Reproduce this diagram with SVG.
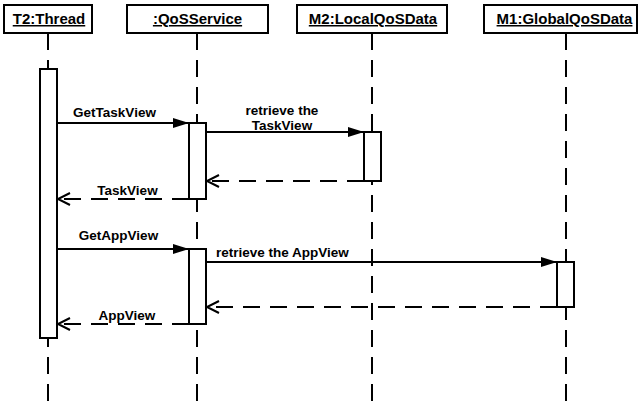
<svg xmlns="http://www.w3.org/2000/svg" width="639" height="401" viewBox="0 0 639 401">
<style>
.box{fill:#fff;stroke:#000;stroke-width:2}
.hdr{font-family:"Liberation Sans",Arial,sans-serif;font-weight:bold;font-size:15px;text-anchor:middle;text-decoration:underline}
.life{stroke:#000;stroke-width:2;stroke-dasharray:17,10;fill:none}
.bar{fill:#fff;stroke:#000;stroke-width:2}
.msg{stroke:#000;stroke-width:2;fill:none}
.ret{stroke:#000;stroke-width:2;fill:none;stroke-dasharray:17,10}
.lbl{font-family:"Liberation Sans",Arial,sans-serif;font-weight:bold;font-size:13.5px;text-anchor:middle}
</style>
<defs>
<marker id="fill" markerWidth="16" markerHeight="10" refX="16" refY="5" orient="auto" markerUnits="userSpaceOnUse">
<path d="M0,0 L16,5 L0,10 Z" fill="#000"/>
</marker>
<marker id="open" markerWidth="16" markerHeight="14" refX="13" refY="7" orient="auto" markerUnits="userSpaceOnUse">
<path d="M1,1 L13,7 L1,13" fill="none" stroke="#000" stroke-width="2"/>
</marker>
</defs>
<rect width="639" height="401" fill="#fff"/>
<g id="lifelines">
<line class="life" x1="48" y1="33" x2="48" y2="401"/>
<line class="life" x1="197" y1="33" x2="197" y2="401"/>
<line class="life" x1="372" y1="33" x2="372" y2="401"/>
<line class="life" x1="566" y1="33" x2="566" y2="401"/>
</g>
<g id="T2">
<rect class="box" x="4" y="5" width="88" height="28"/>
<text class="hdr" x="49" y="24">T2:Thread</text>
<rect class="bar" x="40" y="69" width="17" height="269"/>
</g>
<g id="QoSService">
<rect class="box" x="127" y="5" width="141" height="28"/>
<text class="hdr" x="197.5" y="24">:QoSService</text>
<rect class="bar" x="189" y="123" width="17" height="76"/>
<rect class="bar" x="189" y="249" width="17" height="75"/>
</g>
<g id="M2">
<rect class="box" x="297" y="5" width="150" height="28"/>
<text class="hdr" x="373" y="24">M2:LocalQoSData</text>
<rect class="bar" x="364" y="132" width="17" height="49"/>
</g>
<g id="M1">
<rect class="box" x="484" y="5" width="153" height="28"/>
<text class="hdr" x="564.5" y="24">M1:GlobalQoSData</text>
<rect class="bar" x="557" y="262" width="17" height="45"/>
</g>
<g id="connectors">
<line class="msg" x1="57" y1="123" x2="189" y2="123" marker-end="url(#fill)"/>
<text class="lbl" x="114.5" y="117">GetTaskView</text>
<line class="msg" x1="206" y1="132" x2="364" y2="132" marker-end="url(#fill)"/>
<text class="lbl" x="282" y="115">retrieve the</text>
<text class="lbl" x="282" y="130">TaskView</text>
<line class="ret" x1="364" y1="181" x2="207" y2="181" marker-end="url(#open)"/>
<line class="ret" x1="189" y1="199" x2="58" y2="199" marker-end="url(#open)"/>
<text class="lbl" x="127.5" y="195">TaskView</text>
<line class="msg" x1="57" y1="249" x2="189" y2="249" marker-end="url(#fill)"/>
<text class="lbl" x="118.5" y="240">GetAppView</text>
<line class="msg" x1="206" y1="262" x2="557" y2="262" stroke-width="1.5" marker-end="url(#fill)"/>
<text class="lbl" x="216" y="257" style="text-anchor:start">retrieve the AppView</text>
<line class="ret" x1="557" y1="307" x2="207" y2="307" marker-end="url(#open)"/>
<line class="ret" x1="189" y1="324" x2="58" y2="324" marker-end="url(#open)"/>
<text class="lbl" x="127" y="320">AppView</text>
</g>
</svg>
